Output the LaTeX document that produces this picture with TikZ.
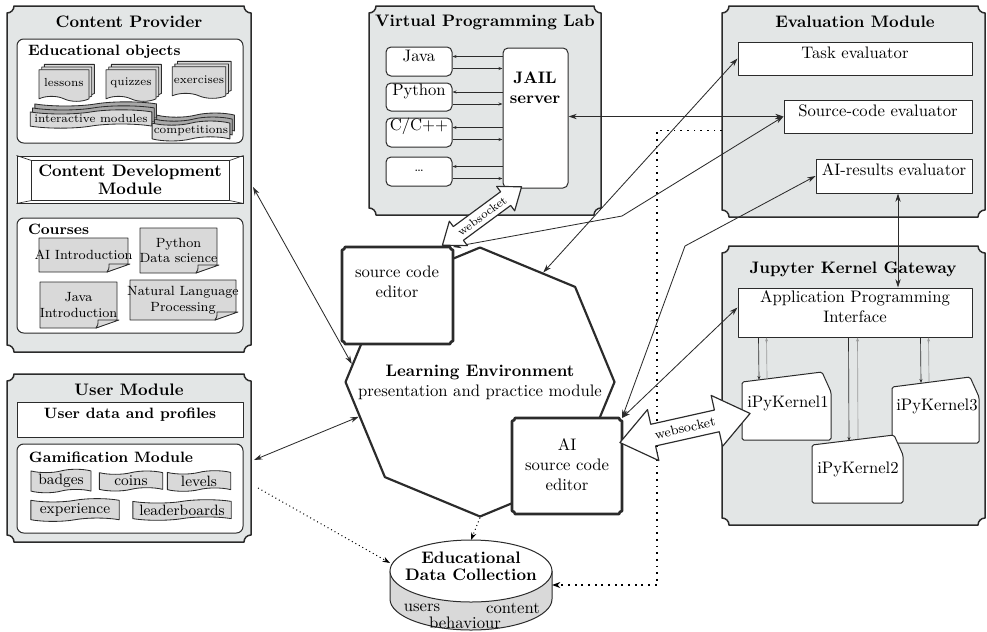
\documentclass[tikz,border=0pt]{standalone}
\usetikzlibrary{shapes.symbols,shapes.arrows,shapes.geometric,shadows,fit,calc,arrows.meta}

\definecolor{panelbg}{HTML}{E3E6E6}
\definecolor{edge}{HTML}{2B2B2B}
\definecolor{docbg}{HTML}{D9D9D9}
\definecolor{shadegray}{HTML}{A8A8A8}
\definecolor{backline}{HTML}{9A9A9A}

% box outline with concave (cut-out) corners around a named node
\newcommand\cutpanel[3][]{%
  \draw[#1] ($(#2.north west)+(#3,0)$) -- ($(#2.north east)+(-#3,0)$) arc(180:90:#3)
    -- ($(#2.south east)+(0,-#3)$) arc(270:180:#3)
    -- ($(#2.south west)+(#3,0)$) arc(360:270:#3)
    -- ($(#2.north west)+(0,#3)$) arc(90:0:#3) -- cycle;}

% note sheet with a folded bottom-right corner
\newcommand\foldnote[1]{%
  \draw[notesheet] (#1.north west) -- (#1.north east) -- ($(#1.south east)+(0,-8)$)
    -- ($(#1.south east)+(-21,0)$) -- (#1.south west) -- cycle;
  \draw[notesheet] ($(#1.south east)+(-21,0)$) .. controls ($(#1.south east)+(-19,-3)$) .. ($(#1.south east)+(-19,-8)$)
    -- ($(#1.south east)+(2,-8)$) -- cycle;}

% kernel card with a chamfered top-right corner
\newcommand\kernelshape[1]{%
  \draw[kern] (#1.south west) -- ($(#1.north west)+(0,2)$) -- ($(#1.north east)+(-9,-8)$)
    -- ($(#1.north east)+(0,12)$) -- (#1.south east) -- cycle;}

\tikzset{
  hold/.style={inner sep=0pt, outer sep=0pt, draw=none},
  panel/.style={fill=panelbg, draw=edge, line width=0.9pt},
  ptitle/.style={font=\bfseries, inner sep=1pt},
  stitle/.style={font=\small\bfseries, inner sep=1pt},
  wbox/.style={draw=edge, fill=white, line width=0.6pt, inner sep=0pt},
  rbox/.style={wbox, rounded corners=4pt},
  lang/.style={wbox, rounded corners=3pt},
  thinline/.style={draw=edge, line width=0.4pt},
  doc/.style={tape, tape bend top=none, tape bend bottom=out and in, tape bend height=3pt,
    draw=edge, fill=docbg, line width=0.5pt, minimum width=30pt, minimum height=19pt,
    inner sep=1pt, font=\scriptsize,
    double copy shadow={shadow xshift=1.6pt, shadow yshift=1.6pt, fill=docbg, draw=edge, line width=0.5pt}},
  ribbon/.style={tape, tape bend height=2.5pt, draw=edge, fill=docbg, line width=0.5pt,
    minimum height=11pt, inner xsep=1pt, inner ysep=0.5pt, font=\scriptsize,
    double copy shadow={shadow xshift=1.4pt, shadow yshift=2.4pt, fill=shadegray, draw=edge, line width=0.5pt}},
  notesheet/.style={draw=edge, fill=docbg, line width=0.5pt},
  notetxt/.style={font=\footnotesize, align=center, inner sep=0pt},
  token/.style={tape, shape border rotate=90, tape bend height=2pt, draw=edge, fill=docbg,
    line width=0.5pt, inner sep=1pt, font=\small, minimum height=10.8pt},
  kern/.style={draw=edge, fill=white, line width=0.6pt, rounded corners=1pt},
  editor/.style={draw=edge, fill=white, line width=1.6pt},
  octo/.style={regular polygon, regular polygon sides=8, shape border rotate=22.5,
    minimum size=161.4pt, inner sep=0pt, draw=edge, fill=white, line width=1.3pt},
  arr/.style={-{Stealth[length=5pt,width=3.2pt]}, draw=edge, line width=0.5pt},
  dbl/.style={{Stealth[length=5pt,width=3.2pt]}-{Stealth[length=5pt,width=3.2pt]}, draw=edge, line width=0.5pt},
  tinyarr/.style={-{Stealth[length=2.4pt,width=1.8pt]}, draw=edge, line width=0.4pt},
  backarr/.style={-{Stealth[length=2.4pt,width=1.8pt]}, draw=backline, line width=0.4pt},
  bigdots/.style={draw=black, line width=1.1pt, dash pattern=on 1.1pt off 2.9pt,
    -{Stealth[length=5pt,width=3.6pt]}},
  smalldots/.style={draw=black, line width=0.6pt, dash pattern=on 0.6pt off 1.8pt,
    -{Stealth[length=4.5pt,width=3.2pt]}},
  wsarrow/.style={double arrow, double arrow tip angle=75, draw=edge, fill=white,
    line width=0.7pt, inner xsep=2pt},
}

\begin{document}
\begin{tikzpicture}[x=0.6pt,y=-0.6pt,line join=round]
\fill[white] (0,0) rectangle (987,631);
\useasboundingbox (0,0) rectangle (987,631);

% ---------------- Content Provider ----------------
\node[hold, fit={(7,6)(251,352)}] (cp) {};
\cutpanel[panel]{cp}{7}
\node[ptitle] (cpt) at (129,22) {Content Provider};
\node[rbox, fit={(17,39)(243,143)}] (eo) {};
\node[stitle, anchor=west] (eot) at (26,52) {Educational objects};
\node[doc] (les) at (64,83) {lessons};
\node[doc] (quiz) at (131,83) {quizzes};
\node[doc] (exer) at (199,80) {exercises};
\node[ribbon, minimum width=73pt] (imod) at (91,119) {interactive modules};
\node[ribbon, minimum width=45pt] (comp) at (191,131) {competitions};

\node[wbox, fit={(17,156)(243,203)}] (cdm) {};
\draw[thinline] ($(cdm.north west)+(15,5)$) rectangle ($(cdm.south east)+(-14,-3)$);
\draw[thinline] (cdm.north west) -- ++(15,5) (cdm.north east) -- ++(-14,5)
  (cdm.south west) -- ++(15,-3) (cdm.south east) -- ++(-14,-3);
\node[ptitle, align=center] (cdmt) at (cdm.center) {Content Development\\[-1.5pt]Module};

\node[rbox, fit={(17,218)(243,333)}] (crs) {};
\node[stitle, anchor=west] (crst) at (26,229) {Courses};
\node[hold, fit={(39,238)(128,272)}] (c1) {}; \foldnote{c1}
\node[notetxt] (c1t) at (c1.center) {AI Introduction};
\node[hold, fit={(140,228)(217,273)}] (c2) {}; \foldnote{c2}
\node[notetxt] (c2t) at (c2.center) {Python\\Data science};
\node[hold, fit={(40,282)(117,328)}] (c3) {}; \foldnote{c3}
\node[notetxt] (c3t) at (c3.center) {Java\\Introduction};
\node[hold, fit={(130,280)(236,320)}] (c4) {}; \foldnote{c4}
\node[notetxt] (c4t) at (c4.center) {Natural Language\\Processing};

% ---------------- User Module ----------------
\node[hold, fit={(7,374)(251,542)}] (um) {};
\cutpanel[panel]{um}{7}
\node[ptitle] (umt) at (129,390) {User Module};
\node[wbox, fit={(17,402)(243,437)}, font=\small\bfseries] (udp) {User data and profiles};
\node[rbox, fit={(17,444)(243,533)}] (gam) {};
\node[stitle, anchor=west] (gamt) at (27,457) {Gamification Module};
\node[token, minimum width=36pt] (bad) at (61,481) {badges};
\node[token, minimum width=38pt] (coin) at (131,481) {coins};
\node[token, minimum width=38pt] (lvl) at (199,481) {levels};
\node[token, minimum width=53pt] (expc) at (75,510) {experience};
\node[token, minimum width=59pt] (lead) at (182,510) {leaderboards};

% ---------------- Virtual Programming Lab ----------------
\node[hold, fit={(369,6)(601,215)}] (vpl) {};
\cutpanel[panel]{vpl}{7}
\node[ptitle] (vplt) at (485,22) {Virtual Programming Lab};
\node[lang, fit={(386,47)(452,76)}] (java) {Java};
\node[lang, fit={(386,83)(452,111)}] (py) {Python};
\node[lang, fit={(386,118)(452,147)}] (cpp) {C/C++};
\node[lang, fit={(386,157)(452,186)}] (etc) {\footnotesize\ldots};
\node[lang, fit={(503,48)(568,188)}] (jail) {};
\node[ptitle, align=center] (jailt) at (535,88) {JAIL\\server};
\foreach \l in {java,py,cpp,etc}{
  \draw[tinyarr] ($(\l.east -| jail.west)+(0,-5)$) -- ($(\l.east)+(0,-5)$);
  \draw[tinyarr] ($(\l.east)+(0,7)$) -- ($(\l.east -| jail.west)+(0,7)$);
}

% ---------------- Evaluation Module ----------------
\node[hold, fit={(722,6)(985,217)}] (ev) {};
\cutpanel[panel]{ev}{7}
\node[ptitle] (evt) at (855,22) {Evaluation Module};
\node[wbox, fit={(738,42)(972,75)}] (task) {Task evaluator};
\node[wbox, fit={(784,100)(972,133)}] (sce) {Source-code evaluator};
\node[wbox, fit={(816,159)(972,193)}] (aire) {AI-results evaluator};

% ---------------- Jupyter Kernel Gateway ----------------
\node[hold, fit={(722,246)(985,525)}] (jk) {};
\cutpanel[panel]{jk}{7}
\node[ptitle] (jkt) at (853,269) {Jupyter Kernel Gateway};
\node[wbox, fit={(738,288)(972,337)}, align=center] (api) {Application Programming\\Interface};
\node[hold, fit={(742,380)(831,440)}] (k1) {}; \kernelshape{k1}
\node (k1t) at (788,403) {iPyKernel1};
\node[hold, fit={(892,385)(979,443)}] (k3) {}; \kernelshape{k3}
\node (k3t) at (937,406) {iPyKernel3};
\node[hold, fit={(812,443)(903,503)}] (k2) {}; \kernelshape{k2}
\node (k2t) at (858,469) {iPyKernel2};
\draw[tinyarr] ($(api.south west)+(21,0)$) -- ($(k1.north west)+(17,0)$);
\draw[backarr] ($(k1.north west)+(25,-1)$) -- ($(api.south west)+(29,0)$);
\draw[tinyarr] ($(api.south west)+(111,0)$) -- ($(k2.north west)+(37,-2)$);
\draw[backarr] ($(k2.north west)+(46,-4)$) -- ($(api.south west)+(120,0)$);
\draw[tinyarr] ($(api.south west)+(183,0)$) -- ($(k3.north west)+(29,-2)$);
\draw[backarr] ($(k3.north west)+(37,-3)$) -- ($(api.south west)+(191,0)$);
\draw[dbl] ($(aire.south)+(4,0)$) -- ($(api.north)+(43,0)$);

% ---------------- Learning Environment ----------------
\node[octo] (le) at (480,382) {};
\node[align=center, inner sep=0pt] (let) at (480,382) {\textbf{Learning Environment}\\presentation and practice module};
\node[hold, fit={(342,247)(453,344)}] (sced) {};
\cutpanel[editor]{sced}{3}
\node[align=center] (scedt) at (397,282) {source code\\editor};
\node[hold, fit={(512,418)(622,514)}] (aied) {};
\cutpanel[editor]{aied}{3}
\node[align=center] (aiedt) at (567,465) {AI\\source code\\editor};

% ---------------- Educational Data Collection ----------------
\node[hold, fit={(390,540)(552,630)}] (edc) {};
\filldraw[draw=edge, fill=docbg, line width=0.6pt] (390,571) -- (390,599) arc(180:0:81 and 31) -- (552,571) -- cycle;
\filldraw[draw=edge, fill=white, line width=0.6pt] (471,571) ellipse (81 and 31);
\node[ptitle, align=center] (edct) at (471,566) {Educational\\[-2pt]Data Collection};
\node[inner sep=0pt] (edcu) at (422,608) {users};
\node[inner sep=0pt] (edcc) at (513,608) {content};
\node[inner sep=0pt] (edcb) at (465,623) {behaviour};

% ---------------- connectors ----------------
\coordinate (bendA) at (622,216);
\coordinate (bendB) at (685,246);
\draw[dbl] ($(cp.east)+(2,8)$) -- (le.172);
\draw[dbl] ($(um.east)+(3,2)$) -- (le.196);
\draw[smalldots] ($(um.east)+(7,30)$) -- ($(edc.west)+(0,-22)$);
\draw[smalldots] (le.south) -- (edc.north);
\draw[bigdots] ($(ev.west)+(0,19)$) -- ++(-65,0) |- (edc.east);
\draw[dbl] (jail.east |- sce.west) -- (sce.west);
\draw[dbl] (task.west) -- (le.60);
\draw[dbl] (sced.north east) -- (bendA) -- (sce.west);
\draw[dbl] (aied.north east) -- (bendB) -- (aire.west);
\draw[dbl] ($(api.west)+(0,-5)$) -- (aied.north east);

% websocket links
\node[wsarrow, font=\scriptsize, rotate=36.4, minimum height=59pt, double arrow head extend=4pt, inner ysep=2.3pt] (ws1) at (482,216) {websocket};
\node[wsarrow, font=\footnotesize, rotate=12.6, minimum height=80pt, double arrow head extend=9pt, inner ysep=3.5pt] (ws2) at (685,428) {websocket};
\end{tikzpicture}
\end{document}
